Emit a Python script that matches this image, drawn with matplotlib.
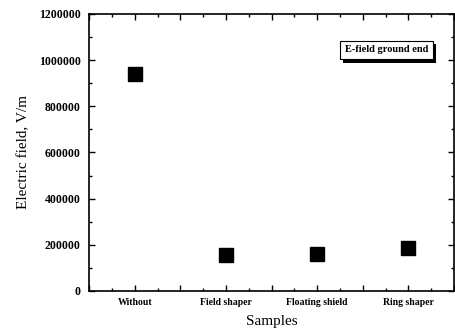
import matplotlib
matplotlib.use("Agg")
import matplotlib.pyplot as plt
import matplotlib.patheffects as pe
from matplotlib.ticker import MultipleLocator, FixedLocator, NullFormatter

categories = ["Without", "Field shaper", "Floating shield", "Ring shaper"]
values = [940000, 156000, 160000, 186000]
yticks = [0, 200000, 400000, 600000, 800000, 1000000, 1200000]

plt.rcParams['font.family'] = ['Liberation Serif', 'DejaVu Serif']

fig = plt.figure(figsize=(4.55, 3.32), dpi=100)
ax = fig.add_axes([0.196, 0.1235, 0.802, 0.8345])

x = list(range(1, len(categories) + 1))
ax.plot(x, values, linestyle='none', marker='s', markersize=9.5, color='black')

ax.set_xlim(0.5, 4.5)
ax.set_ylim(0, 1200000)
ax.xaxis.set_major_locator(MultipleLocator(0.5))
ax.xaxis.set_minor_locator(MultipleLocator(0.25))
ax.xaxis.set_major_formatter(NullFormatter())
for xi, lab in zip(x, categories):
    ax.text(xi, -0.025, lab, transform=ax.get_xaxis_transform(), ha='center', va='top',
            fontsize=7, fontweight='bold')
ax.yaxis.set_major_locator(FixedLocator(yticks))
ax.yaxis.set_minor_locator(MultipleLocator(100000))
ax.set_yticklabels([str(v) for v in yticks], fontsize=8.5, fontweight='bold')

ax.tick_params(which='both', direction='in', top=True, right=True, width=1)
ax.tick_params(which='major', length=4)
ax.tick_params(which='minor', length=2)
ax.tick_params(axis='y', pad=6)
for s in ax.spines.values():
    s.set_linewidth(1.2)

ax.set_ylabel("Electric field, V/m", fontsize=11, labelpad=6)
ax.set_xlabel("Samples", fontsize=11, labelpad=14)

t = ax.text(0.814, 0.87, "E-field ground end", transform=ax.transAxes, ha='center', va='center',
            fontsize=7.5, fontweight='bold',
            bbox=dict(boxstyle='square,pad=0.45', facecolor='white', edgecolor='black', linewidth=0.8))
t.get_bbox_patch().set_path_effects([pe.SimplePatchShadow(offset=(2.5, -2.5), shadow_rgbFace='black', alpha=1.0), pe.Normal()])

fig.savefig("out.png", dpi=100)
